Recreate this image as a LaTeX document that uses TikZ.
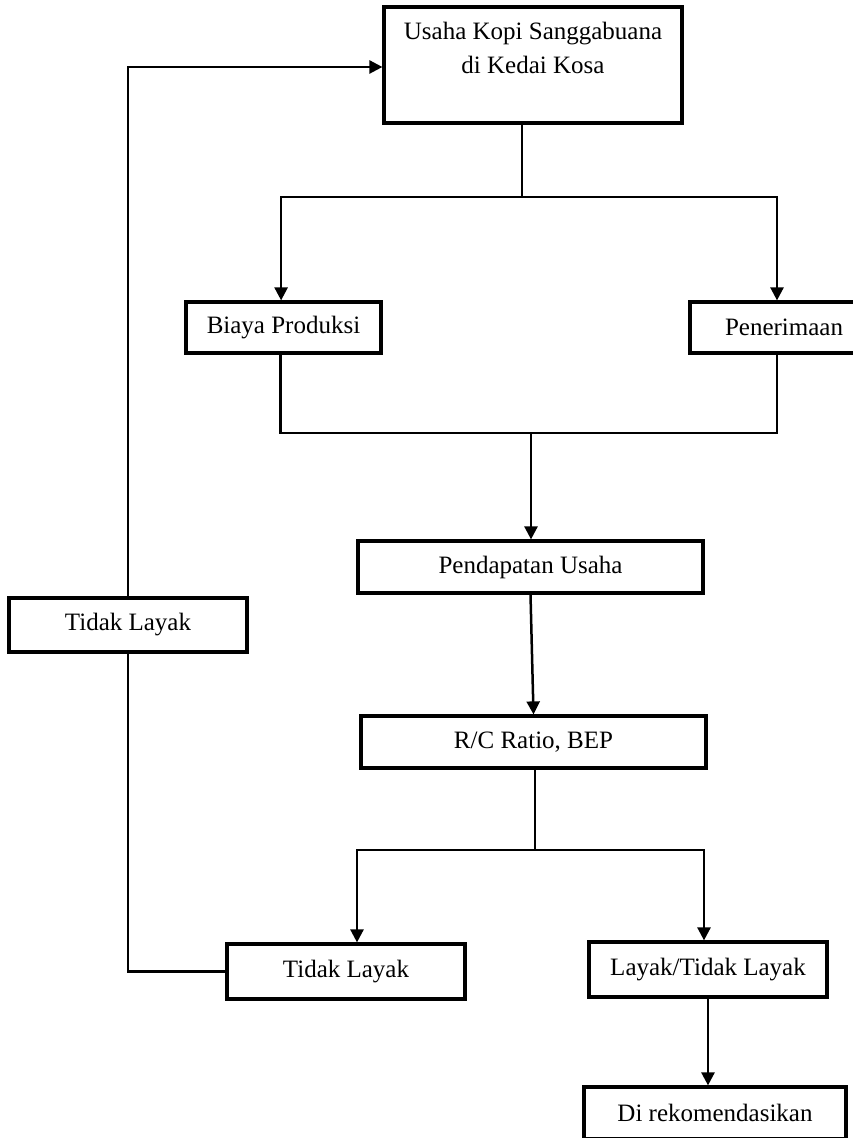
\documentclass[tikz,border=0pt]{standalone}
\usepackage{fontspec}
\setmainfont{Liberation Serif}
\usepackage{tikz}
\usetikzlibrary{arrows.meta}

\begin{document}
\begin{tikzpicture}[x=0.5pt, y=-0.5pt,
	every node/.style={font=\fontsize{12.5}{17}\selectfont},
	box/.style={rectangle, draw=black, line width=1.6pt, inner sep=0pt},
	every path/.style={line width=1.25pt},
	arr/.style={-{Triangle[length=6.5pt,width=6.5pt]}}]
			\useasboundingbox (0,0) rectangle (852,1138);
			
			\node[box, minimum width=149pt, minimum height=58pt] (usaha) at (533,65){};
			\node[align=center, anchor=north, inner sep=0pt] (usahatxt) at (533,21){Usaha Kopi Sanggabuana\\di Kedai Kosa};
			\node[box, minimum width=97.5pt, minimum height=25.5pt] (biaya) at (283.5,327.5){Biaya Produksi};
			\node[box, minimum width=94pt, minimum height=25.5pt] (terima) at (784,327.5){Penerimaan};
			\node[box, minimum width=172.5pt, minimum height=26pt] (dapat) at (530.5,567){Pendapatan Usaha};
			\node[box, minimum width=172.5pt, minimum height=26pt] (rc) at (533.5,742){R/C Ratio, BEP};
			\node[box, minimum width=119pt, minimum height=27pt] (tl1) at (128,625){Tidak Layak};
			\node[box, minimum width=119pt, minimum height=27.5pt] (tl2) at (346,971.5){Tidak Layak};
			\node[box, minimum width=119pt, minimum height=27.5pt] (layak) at (708,969.5){Layak/Tidak Layak};
			\node[box, minimum width=131pt, minimum height=26pt] (rekom) at (715,1113){Di rekomendasikan};
			
			\coordinate (j1) at (522,197);
			\coordinate (j2) at (531,433);
			\coordinate (j3) at (535,850);
			
			% cabang atas
			\draw (usaha.south -| j1) -- (j1);
			\draw[arr] (j1) -| ([xshift=-1.2pt]biaya.north);
			\draw[arr] (j1) -| ([xshift=-3.5pt]terima.north);
			\draw ([xshift=-1.5pt]biaya.south) |- (j2) -| ([xshift=-3.5pt]terima.south);
			\draw[arr] (j2) -- (j2 |- dapat.north);
			\draw[arr] (dapat.south) -- (rc.north);
			
			% cabang bawah
			\draw (rc.south -| j3) -- (j3);
			\draw[arr] (j3) -| ([xshift=5.5pt]tl2.north);
			\draw[arr] (j3) -| ([xshift=-2pt]layak.north);
			\draw[arr] (layak.south) -- (layak.south |- rekom.north);
			
			% kembali ke atas
			\draw (tl2.west) -| (tl1.south);
			\draw[arr] (tl1.north) |- ([yshift=-1pt]usaha.west);
\end{tikzpicture}
\end{document}
